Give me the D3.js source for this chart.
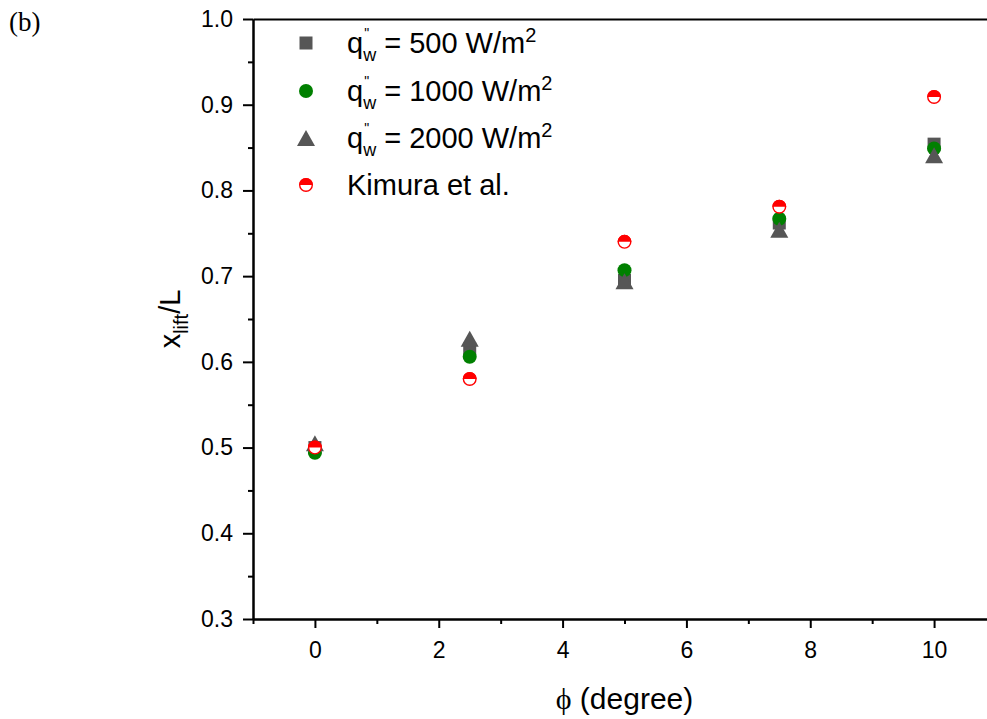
<!DOCTYPE html>
<html>
<head>
<meta charset="utf-8">
<script src="https://cdn.jsdelivr.net/npm/d3@7"></script>
<style>
  body { margin: 0; background: #fff; }
  svg { display: block; }
  text { font-family: "Liberation Sans", Arial, sans-serif; }
</style>
</head>
<body>
<script>
// data
const phi = [0, 2.5, 5, 7.5, 10]
const q500 = [0.500, 0.615, 0.695, 0.762, 0.854]
const q1000 = [0.494, 0.606, 0.707, 0.767, 0.849]
const q2000 = [0.505, 0.627, 0.694, 0.754, 0.841]
const kimura = [0.500, 0.580, 0.740, 0.781, 0.909]

const xTicks = [0, 2, 4, 6, 8, 10]
const xMinor = [-1, 1, 3, 5, 7, 9, 11]
const yTicks = [0.3, 0.4, 0.5, 0.6, 0.7, 0.8, 0.9, 1.0]
const yMinor = [0.35, 0.45, 0.55, 0.65, 0.75, 0.85, 0.95]
const legendLabels = ["500", "1000", "2000"]

const W = 987, H = 719
const gray = "#565656", green = "#008000", red = "#ff0000"

const svg = d3.select("body").append("svg")
    .attr("width", W)
    .attr("height", H)

const x = d3.scaleLinear().domain([-1, 11]).range([253, 996])
const y = d3.scaleLinear().domain([0.3, 1.0]).range([619, 19])

// panel label
svg.append("text")
    .attr("x", 9)
    .attr("y", 31)
    .style("font-family", "'Liberation Serif', 'Times New Roman', serif")
    .style("font-size", "27px")
    .text("(b)")

// axes
const styleAxis = g => {
  g.selectAll(".domain").attr("stroke", "#000").attr("stroke-width", 2)
  g.selectAll(".tick line").attr("stroke", "#000").attr("stroke-width", 2)
  g.selectAll(".tick text").style("font-size", "23px").attr("fill", "#000")
    .style("font-family", "'Liberation Sans', Arial, sans-serif")
}

svg.append("g")
    .attr("transform", `translate(0,${y(0.3)})`)
    .call(d3.axisBottom(x).tickValues(xMinor).tickSize(5).tickSizeOuter(0).tickFormat(""))
    .call(styleAxis)

svg.append("g")
    .attr("transform", `translate(0,${y(0.3)})`)
    .call(d3.axisBottom(x).tickValues(xTicks).tickSize(9).tickPadding(14).tickSizeOuter(0).tickFormat(d3.format("d")))
    .call(styleAxis)

svg.append("g")
    .attr("transform", `translate(0,${y(1.0)})`)
    .call(d3.axisTop(x).tickValues([]).tickSizeOuter(0))
    .call(styleAxis)

svg.append("g")
    .attr("transform", `translate(${x(-1)},0)`)
    .call(d3.axisLeft(y).tickValues(yMinor).tickSize(5).tickSizeOuter(0).tickFormat(""))
    .call(styleAxis)

svg.append("g")
    .attr("transform", `translate(${x(-1)},0)`)
    .call(d3.axisLeft(y).tickValues(yTicks).tickSize(10).tickPadding(10).tickSizeOuter(0).tickFormat(d3.format(".1f")))
    .call(styleAxis)

// axis titles
const xt = svg.append("text")
    .attr("x", x(5))
    .attr("y", 709)
    .attr("text-anchor", "middle")
    .style("font-size", "30px")
xt.append("tspan")
    .style("font-family", "'Liberation Serif', 'Times New Roman', serif")
    .text("\u03d5")
xt.append("tspan").text(" (degree)")

const yt = svg.append("text")
    .attr("transform", `translate(180,${y(0.65)}) rotate(-90)`)
    .attr("text-anchor", "middle")
    .style("font-size", "29px")
yt.append("tspan").text("x")
yt.append("tspan").attr("dy", 8).style("font-size", "20px").text("lift")
yt.append("tspan").attr("dy", -8).text("/L")

// markers
const squareSize = 13, circleR = 7, triW = 18, triH = 16
const triPath = `M0,${-triH / 2}L${triW / 2},${triH / 2}L${-triW / 2},${triH / 2}Z`
const halfTop = d3.arc().innerRadius(0).outerRadius(circleR)
    .startAngle(-Math.PI / 2).endAngle(Math.PI / 2)

const drawSquare = (g, cx, cy) => g.append("rect")
    .attr("x", cx - squareSize / 2).attr("y", cy - squareSize / 2)
    .attr("width", squareSize).attr("height", squareSize)
    .attr("fill", gray)
const drawCircle = (g, cx, cy) => g.append("circle")
    .attr("cx", cx).attr("cy", cy).attr("r", circleR).attr("fill", green)
const drawTri = (g, cx, cy) => g.append("path")
    .attr("transform", `translate(${cx},${cy})`).attr("d", triPath).attr("fill", gray)
const drawHalf = (g, cx, cy) => {
  const h = g.append("g").attr("transform", `translate(${cx},${cy})`)
  h.append("circle").attr("r", circleR - 0.7).attr("fill", "#fff")
      .attr("stroke", red).attr("stroke-width", 1.4)
  h.append("path").attr("d", halfTop()).attr("fill", red)
}

const series = [
  { values: q500, draw: drawSquare },
  { values: q1000, draw: drawCircle },
  { values: q2000, draw: drawTri },
  { values: kimura, draw: drawHalf }
]

const plot = svg.append("g")
series.forEach(s => {
  s.values.forEach((v, i) => s.draw(plot, x(phi[i]), y(v)))
})

// legend
const legend = svg.append("g")
const rowY = [43, 91, 138, 185]
const markerX = 306, textX = 347

series.forEach((s, i) => s.draw(legend, markerX, rowY[i]))

legendLabels.forEach((lab, i) => {
  const t = legend.append("text")
      .attr("x", textX)
      .attr("y", rowY[i] + 10)
      .style("font-size", "29px")
  t.append("tspan").text("q")
  // double prime high up, subscript w low, roughly stacked
  t.append("tspan").attr("dx", 1).attr("dy", -15).style("font-size", "14px").text("\"")
  t.append("tspan").attr("dx", -6).attr("dy", 23).style("font-size", "18px").text("w")
  t.append("tspan").attr("dy", -8).text(` = ${lab} W/m`)
  t.append("tspan").attr("dy", -11).style("font-size", "20px").text("2")
})

legend.append("text")
    .attr("x", textX)
    .attr("y", rowY[3] + 10)
    .style("font-size", "29px")
    .text("Kimura et al.")
</script>
</body>
</html>
